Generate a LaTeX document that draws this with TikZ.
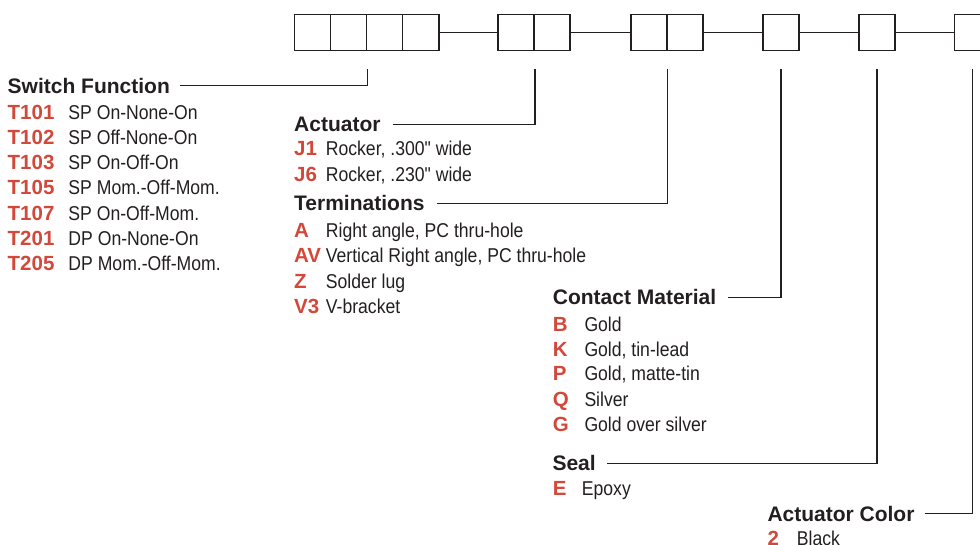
\documentclass[tikz,border=0pt]{standalone}
\usepackage{fontspec}
\setmainfont{Liberation Sans}
\newfontfamily\condfont[FakeStretch=0.88]{Liberation Sans}
\definecolor{codered}{RGB}{210,72,58}
\definecolor{ink}{RGB}{35,31,32}
\newcommand{\itm}[3]{\makebox[#1][l]{\color{codered}\bfseries\fontsize{20.5}{24}\selectfont #2}{\condfont\fontsize{20}{24}\selectfont #3}}
\begin{document}
\begin{tikzpicture}[x=1pt,y=-1pt,
  cell/.style={draw=ink, line width=1.6pt, minimum width=36.1pt, minimum height=36pt, inner sep=0pt},
  txt/.style={anchor=base west, inner sep=0pt, text=ink},
  head/.style={txt, font=\bfseries\fontsize{21}{25}\selectfont},
  lead/.style={draw=ink, line width=1.3pt},
  link/.style={draw=ink, line width=1.3pt}]
\useasboundingbox (0,0) rectangle (980,545);
% boxes
\node[cell] (a1) at (312.35,32.7) {};
\node[cell] (a2) at (348.45,32.7) {};
\node[cell] (a3) at (384.55,32.7) {};
\node[cell] (a4) at (420.65,32.7) {};
\node[cell] (b1) at (516.05,32.7) {};
\node[cell] (b2) at (552.15,32.7) {};
\node[cell] (c1) at (648.75,32.7) {};
\node[cell] (c2) at (684.85,32.7) {};
\node[cell] (d1) at (780.95,32.7) {};
\node[cell] (e1) at (876.95,32.7) {};
\node[cell] (f1) at (972.55,32.7) {};
\path[link] (a4.east) -- (b1.west);
\path[link] (b2.east) -- (c1.west);
\path[link] (c2.east) -- (d1.west);
\path[link] (d1.east) -- (e1.west);
\path[link] (e1.east) -- (f1.west);
% leader tops
\coordinate (la) at ([yshift=-17.3pt]a2.south east);
\coordinate (lb) at ([yshift=-17.3pt]b1.south east);
\coordinate (lc) at ([yshift=-17.3pt]c1.south east);
\coordinate (ld) at ([yshift=-17.3pt]d1.south);
\coordinate (le) at ([yshift=-17.3pt]e1.south);
\coordinate (lf) at ([yshift=-17.3pt]f1.south);
% headers
\node[head] (sf) at (7.5,93.3) {Switch Function};
\node[head] (act) at (294,131.7) {Actuator};
\node[head] (term) at (294,211) {Terminations};
\node[head] (cm) at (552.7,305) {Contact Material};
\node[head] (seal) at (552.3,470.7) {Seal};
\node[head] (ac) at (767.3,521) {Actuator Color};
\path[lead] ([xshift=9.5pt]sf.east) -| (la);
\path[lead] ([xshift=12pt]act.east) -| (lb);
\path[lead] ([xshift=12pt]term.east) -| (lc);
\path[lead] ([xshift=11.5pt]cm.east) -| (ld);
\path[lead] ([xshift=11.5pt]seal.east) -| (le);
\path[lead] ([xshift=10pt]ac.east) -| (lf);
% switch function items
\node[txt] (s1) at (7.5,119.3) {\itm{60.8pt}{T101}{SP On-None-On}};
\node[txt] (s2) at (7.5,144.5) {\itm{60.8pt}{T102}{SP Off-None-On}};
\node[txt] (s3) at (7.5,169.7) {\itm{60.8pt}{T103}{SP On-Off-On}};
\node[txt] (s4) at (7.5,194.9) {\itm{60.8pt}{T105}{SP Mom.-Off-Mom.}};
\node[txt] (s5) at (7.5,220.1) {\itm{60.8pt}{T107}{SP On-Off-Mom.}};
\node[txt] (s6) at (7.5,245.3) {\itm{60.8pt}{T201}{DP On-None-On}};
\node[txt] (s7) at (7.5,270.5) {\itm{60.8pt}{T205}{DP Mom.-Off-Mom.}};
% actuator items
\node[txt] (j1) at (294,155.7) {\itm{31.7pt}{J1}{Rocker, .300" wide}};
\node[txt] (j6) at (294,181.7) {\itm{31.7pt}{J6}{Rocker, .230" wide}};
% terminations
\node[txt] (ta) at (294,237.7) {\itm{31.7pt}{A}{Right angle, PC thru-hole}};
\node[txt] (tav) at (294,262.7) {\itm{31.7pt}{AV}{Vertical Right angle, PC thru-hole}};
\node[txt] (tz) at (294,288.3) {\itm{31.7pt}{Z}{Solder lug}};
\node[txt] (tv) at (294,313.3) {\itm{31.7pt}{V3}{V-bracket}};
% contact material
\node[txt] (mb) at (552.7,331) {\itm{31.6pt}{B}{Gold}};
\node[txt] (mk) at (552.7,356) {\itm{31.6pt}{K}{Gold, tin-lead}};
\node[txt] (mp) at (552.7,381) {\itm{31.6pt}{P}{Gold, matte-tin}};
\node[txt] (mq) at (552.7,406) {\itm{31.6pt}{Q}{Silver}};
\node[txt] (mg) at (552.7,431.7) {\itm{31.6pt}{G}{Gold over silver}};
% seal
\node[txt] (se) at (552.7,495) {\itm{29pt}{E}{Epoxy}};
% actuator color
\node[txt] (c2k) at (767.3,545.3) {\itm{29.4pt}{2}{Black}};
\end{tikzpicture}
\end{document}
